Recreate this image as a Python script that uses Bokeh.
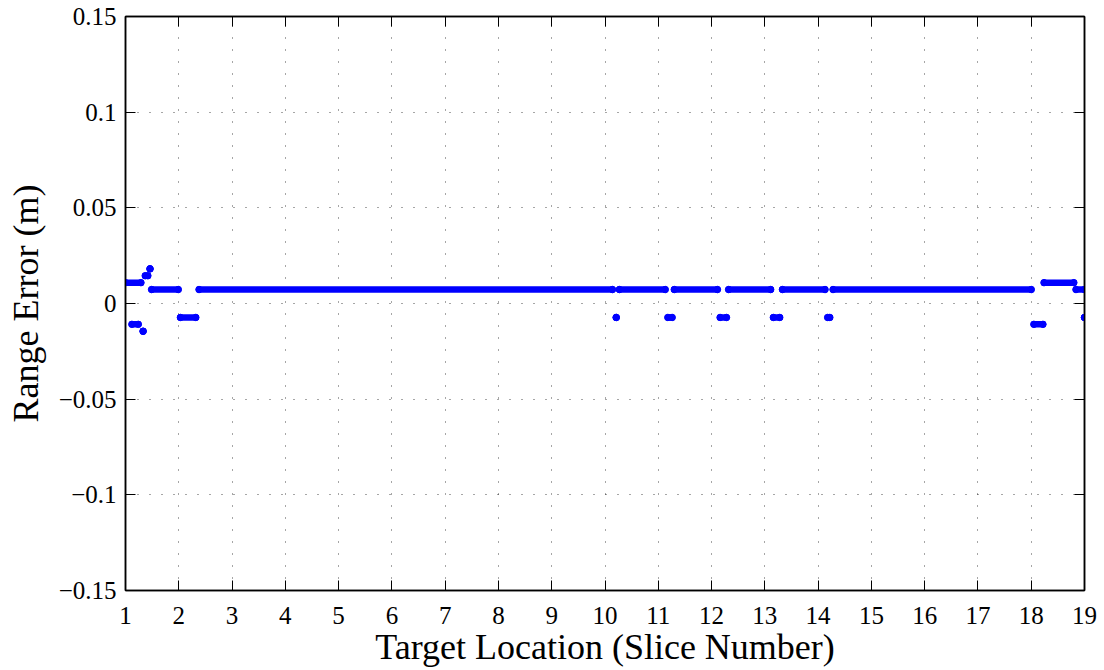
from bokeh.plotting import figure
from bokeh.models import Range1d, FixedTicker, LinearAxis, ColumnDataSource, CustomJSTickFormatter
from bokeh.embed import file_html
from bokeh.resources import INLINE

# Runs of range-error samples: start slice, end slice, error value (m)
seg_x0 = [1.00, 1.12, 1.33, 1.37, 1.46, 1.49, 2.03, 2.38, 10.21, 10.27, 11.18, 11.30,
          12.16, 12.32, 13.16, 13.33, 14.18, 14.28, 18.05, 18.24, 18.84, 19.00]
seg_x1 = [1.29, 1.24, 1.33, 1.42, 1.46, 1.99, 2.32, 10.14, 10.21, 11.13, 11.26, 12.11,
          12.28, 13.11, 13.28, 14.13, 14.22, 18.00, 18.22, 18.80, 19.00, 19.00]
seg_err = [0.0109, -0.0109, -0.0145, 0.0145, 0.0181, 0.0073, -0.0073, 0.0073, -0.0073, 0.0073,
           -0.0073, 0.0073, -0.0073, 0.0073, -0.0073, 0.0073, -0.0073, 0.0073, -0.0109, 0.0109,
           0.0073, -0.0073]

x_ticks = list(range(1, 20))
y_ticks = [-0.15, -0.1, -0.05, 0, 0.05, 0.1, 0.15]

FONT = "Liberation Serif"

p = figure(width=1104, height=670, x_range=Range1d(1, 19), y_range=Range1d(-0.15, 0.15),
           output_backend="svg", toolbar_location=None,
           min_border_left=125, min_border_right=20, min_border_top=16, min_border_bottom=80,
           background_fill_color="white", border_fill_color="white")

src = ColumnDataSource(dict(x0=seg_x0, x1=seg_x1, y=seg_err))
p.segment(x0="x0", y0="y", x1="x1", y1="y", source=src, line_width=6.5,
          line_cap="round", line_color="#0000ff")
p.scatter(x="x0", y="y", source=src, size=6.5, color="#0000ff")
p.scatter(x="x1", y="y", source=src, size=6.5, color="#0000ff")

fmt = CustomJSTickFormatter(code="""
if (Math.abs(tick) < 1e-9) return '0';
var s = String(Math.round(tick*100)/100);
return s.replace('-', '\\u2212');
""")
blank = CustomJSTickFormatter(code="return '';")

p.xaxis.ticker = FixedTicker(ticks=x_ticks)
p.yaxis.ticker = FixedTicker(ticks=y_ticks)
p.yaxis.formatter = fmt

for ax in (p.xaxis[0], p.yaxis[0]):
    ax.major_label_text_font = FONT
    ax.major_label_text_font_size = "25px"
    ax.major_label_text_color = "black"
    ax.axis_label_text_font = FONT
    ax.axis_label_text_font_size = "36px"
    ax.axis_label_text_font_style = "normal"
    ax.axis_label_text_color = "black"
    ax.major_tick_in = 10
    ax.major_tick_out = 0
    ax.minor_tick_in = 0
    ax.minor_tick_out = 0
    ax.axis_line_color = "black"
    ax.axis_line_width = 1.5
    ax.major_tick_line_color = "black"
    ax.major_tick_line_width = 1

p.xaxis.axis_label = "Target Location (Slice Number)"
p.yaxis.axis_label = "Range Error (m)"
p.xaxis.major_label_standoff = 16
p.xaxis.axis_label_standoff = 0
p.yaxis.major_label_standoff = 9
p.yaxis.axis_label_standoff = 10

# box ticks on top and right
top = LinearAxis(ticker=FixedTicker(ticks=x_ticks), formatter=blank,
                 major_tick_in=10, major_tick_out=0, minor_tick_in=0, minor_tick_out=0,
                 axis_line_color="black", axis_line_width=1.5, major_label_standoff=0)
right = LinearAxis(ticker=FixedTicker(ticks=y_ticks), formatter=blank,
                   major_tick_in=10, major_tick_out=0, minor_tick_in=0, minor_tick_out=0,
                   axis_line_color="black", axis_line_width=1.5, major_label_standoff=0)
p.add_layout(top, "above")
p.add_layout(right, "right")

p.grid.grid_line_color = "black"
p.grid.grid_line_alpha = 0.7
p.grid.grid_line_dash = "1 11"
p.grid.grid_line_width = 1
p.outline_line_color = "black"
p.outline_line_width = 1.5

open("out.html", "w").write(file_html(p, INLINE))
